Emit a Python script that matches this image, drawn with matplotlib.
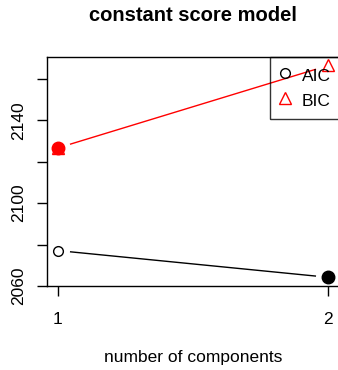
import numpy as np
import matplotlib.pyplot as plt

plt.rcParams['font.family'] = ['Liberation Sans', 'DejaVu Sans']

components = [1, 2]
aic = [2077.1, 2064.2]
bic = [2126.6, 2166.4]
yticks = [2060, 2080, 2100, 2120, 2140, 2160]
ylabels = ['2060', '', '2100', '', '2140', '']


def gapped_line(ax, x, y, color, gap=0.045):
    # R type="b": segments stop short of the points
    x0, x1 = x
    y0, y1 = y
    ax.plot([x0 + gap, x1 - gap],
            [y0 + (y1 - y0) * gap, y1 - (y1 - y0) * gap],
            color=color, lw=1, solid_capstyle='butt')


fig = plt.figure(figsize=(3.38, 3.70), dpi=100)
ax = fig.add_axes([0.139, 0.227, 0.864, 0.619])

gapped_line(ax, components, aic, 'black')
gapped_line(ax, components, bic, 'red')

ax.plot(components, aic, 'o', mfc='none', mec='black', ms=7, mew=1)
ax.plot(components, bic, '^', mfc='none', mec='red', ms=8.5, mew=1)
# filled circle marks the minimum of each criterion
ia = int(np.argmin(aic))
ib = int(np.argmin(bic))
ax.plot(components[ia], aic[ia], 'o', color='black', ms=9)
ax.plot(components[ib], bic[ib], 'o', color='red', ms=9)

ax.set_xlim(0.96, 2.04)
ax.set_ylim(2060.1, 2170.5)
ax.set_xticks(components)
ax.set_xticklabels(['1', '2'])
ax.set_yticks(yticks)
ax.set_yticklabels(ylabels, rotation=90, va='center')
ax.tick_params(direction='out', length=7, width=1, pad=12, labelsize=12.5)
ax.tick_params(axis='y', pad=8)
for s in ax.spines.values():
    s.set_linewidth(1)

ax.set_xlabel('number of components', fontsize=12.5, labelpad=16)
ax.set_title('constant score model', fontsize=14.5, fontweight='bold', pad=26)

leg_h = [plt.Line2D([], [], ls='none', marker='o', mfc='none', mec='black', ms=7),
         plt.Line2D([], [], ls='none', marker='^', mfc='none', mec='red', ms=8.5)]
leg = ax.legend(leg_h, ['AIC', 'BIC'], loc='upper right', fontsize=12.5,
                frameon=True, fancybox=False, borderaxespad=0, handletextpad=0.57,
                handlelength=0.8, handleheight=1.5, labelspacing=0.2,
                borderpad=0.46)
leg.get_frame().set_edgecolor('black')
leg.get_frame().set_facecolor('none')
leg.get_frame().set_linewidth(1)

fig.savefig('out.png', dpi=100)
